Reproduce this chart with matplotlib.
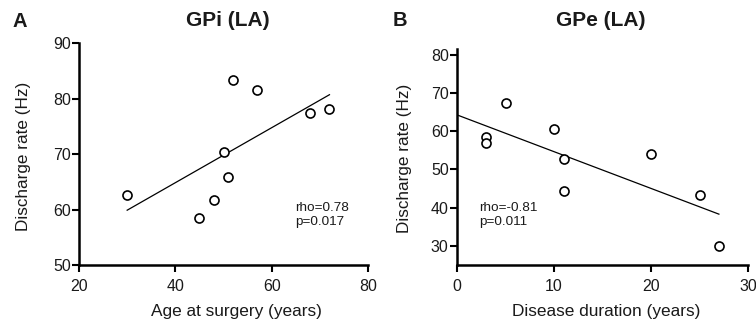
import matplotlib
matplotlib.use("Agg")
import matplotlib.pyplot as plt
import numpy as np

plt.rcParams['font.family'] = ['Liberation Sans', 'DejaVu Sans']

# Panel A data
age_a = [30, 45, 48, 50, 51, 52, 57, 68, 72]
rate_a = [62.7, 58.5, 61.8, 70.4, 65.9, 83.3, 81.5, 77.5, 78.1]
fit_range_a = [30, 72]
stats_a = "rho=0.78\np=0.017"

# Panel B data
dur_b = [3, 3, 5, 10, 11, 11, 20, 25, 27]
rate_b = [58.5, 56.8, 67.3, 60.5, 52.8, 44.4, 54.1, 43.4, 30.0]
fit_range_b = [0, 27]
stats_b = "rho=-0.81\np=0.011"

W, H = 756, 325
fig = plt.figure(figsize=(W / 100, H / 100), dpi=100)

def px_axes(l, r, t, b):
    return fig.add_axes([l / W, 1 - b / H, (r - l) / W, (b - t) / H])

axA = px_axes(79, 368, 43.3, 265)
axB = px_axes(457, 748, 49, 265)

txtc = '#1a1a1a'

def style(ax, x, y, frange, xlim, ylim, xticks, yticks):
    ax.plot(x, y, 'o', ms=6.5, mfc='white', mec='black', mew=1.2, zorder=3)
    k, c = np.polyfit(x, y, 1)
    xx = np.array(frange, dtype=float)
    ax.plot(xx, k * xx + c, color='black', lw=0.9, zorder=2)
    ax.set_xlim(*xlim)
    ax.set_ylim(*ylim)
    ax.set_xticks(xticks)
    ax.set_yticks(yticks)
    for s in ['top', 'right']:
        ax.spines[s].set_visible(False)
    for s in ['left', 'bottom']:
        ax.spines[s].set_linewidth(1.8)
    ax.tick_params(axis='both', direction='out', length=5, width=1.5,
                   labelsize=11.5, labelcolor=txtc)
    ax.tick_params(axis='x', pad=5)
    ax.tick_params(axis='y', pad=1)

style(axA, age_a, rate_a, fit_range_a, (20, 80), (50, 90),
      [20, 40, 60, 80], [50, 60, 70, 80, 90])
style(axB, dur_b, rate_b, fit_range_b, (0, 30), (25, 81.5),
      [0, 10, 20, 30], [30, 40, 50, 60, 70, 80])

axA.text(64.8, 59, stats_a, fontsize=9.7, va='center', ha='left', color=txtc)
axB.text(2.27, 38.0, stats_b, fontsize=9.7, va='center', ha='left', color=txtc)

def ftext(x, y, s, **kw):
    fig.text(x / W, 1 - y / H, s, **kw)

ftext(227.5, 21, "GPi (LA)", fontsize=15, fontweight='bold', ha='center', va='center', color=txtc)
ftext(601, 21, "GPe (LA)", fontsize=15, fontweight='bold', ha='center', va='center', color=txtc)
ftext(19.7, 21.5, "A", fontsize=14.5, fontweight='bold', ha='center', va='center', color=txtc)
ftext(399.7, 21, "B", fontsize=14.5, fontweight='bold', ha='center', va='center', color=txtc)

ftext(236.7, 311.5, "Age at surgery (years)", fontsize=12.4, ha='center', va='center', color=txtc)
ftext(606, 311.5, "Disease duration (years)", fontsize=12.4, ha='center', va='center', color=txtc)
ftext(23.3, 156.5, "Discharge rate (Hz)", fontsize=12.3, ha='center', va='center', rotation=90, color=txtc)
ftext(404, 158, "Discharge rate (Hz)", fontsize=12.3, ha='center', va='center', rotation=90, color=txtc)

fig.savefig("out.png", dpi=100)
